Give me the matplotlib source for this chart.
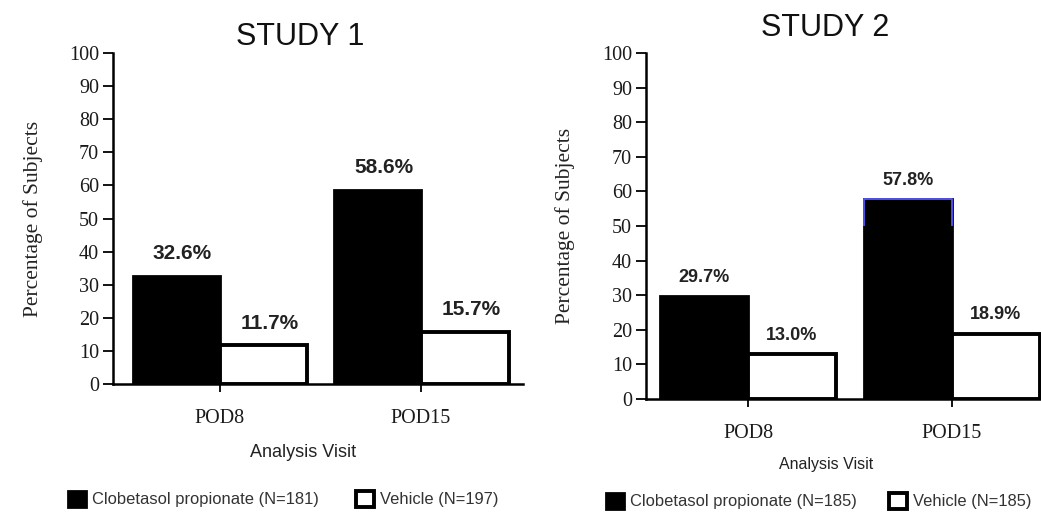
import numpy as np
import matplotlib
matplotlib.use('Agg')
import matplotlib.pyplot as plt

# data
visits = ['POD8', 'POD15']
study1_clob = [32.6, 58.6]
study1_veh = [11.7, 15.7]
study2_clob = [29.7, 57.8]
study2_veh = [13.0, 18.9]
study1_labels = ['Clobetasol propionate (N=181)', 'Vehicle (N=197)']
study2_labels = ['Clobetasol propionate (N=185)', 'Vehicle (N=185)']
yticks = list(range(0, 101, 10))

W, H = 1041, 512
fig = plt.figure(figsize=(W / 100, H / 100), dpi=100)
fig.patch.set_facecolor('white')


def px_axes(x0, x1, ytop, ybot):
    return fig.add_axes([x0 / W, 1 - ybot / H, (x1 - x0) / W, (ybot - ytop) / H])


def draw_panel(ax, clob, veh, xlim, width, tick_fs, val_fs, val_off, xlab_fs, ylab_fs):
    x = np.arange(len(visits))
    b1 = ax.bar(x - width / 2, clob, width, color='black', edgecolor='black', linewidth=2)
    b2 = ax.bar(x + width / 2, veh, width, color='white', edgecolor='black', linewidth=2.8)
    for bars, vals in ((b1, clob), (b2, veh)):
        for b, v in zip(bars, vals):
            ax.annotate(f'{v:.1f}%', (b.get_x() + b.get_width() / 2, v),
                        xytext=val_off, textcoords='offset points',
                        ha='center', va='center', fontsize=val_fs,
                        fontweight='bold', color='#222222', family='Liberation Sans')
    ax.set_xlim(*xlim)
    ax.set_ylim(0, 100)
    ax.set_yticks(yticks)
    ax.set_xticks(x)
    ax.set_xticklabels(visits)
    for s in ('top', 'right'):
        ax.spines[s].set_visible(False)
    for s in ('left', 'bottom'):
        ax.spines[s].set_linewidth(1.8)
    ax.tick_params(axis='y', length=7, width=1.3, labelsize=tick_fs, pad=3)
    ax.tick_params(axis='x', length=6, width=1.3, labelsize=tick_fs, pad=12)
    for t in ax.get_xticklabels() + ax.get_yticklabels():
        t.set_family('Liberation Serif')
        t.set_color('#1a1a1a')
    ax.set_ylabel('Percentage of Subjects', family='Liberation Serif',
                  fontsize=ylab_fs, color='#222222')
    ax.set_xlabel('Analysis Visit', family='Liberation Sans',
                  fontsize=xlab_fs, color='#222222')
    return b1, b2


ax1 = px_axes(113, 523, 53, 384)
draw_panel(ax1, study1_clob, study1_veh, (-0.532, 1.507), 0.435,
           14.5, 15, (4.5, 16), 13, 15.5)
ax1.yaxis.set_label_coords(-0.171, 0.5)
ax1.xaxis.set_label_coords(0.463, -0.181)

ax2 = px_axes(646, 1041, 53, 399)
b1, b2 = draw_panel(ax2, study2_clob, study2_veh, (-0.5, 1.436), 0.43,
                    14.5, 13, (0, 13.5), 11.5, 15.5)
ax2.yaxis.set_label_coords(-0.18, 0.5)
ax2.xaxis.set_label_coords(0.456, -0.168)

# bluish top edge on the 57.8% bar
bb = b1[1]
bx0, bx1 = bb.get_x(), bb.get_x() + bb.get_width()
ax2.plot([bx0, bx0, bx1, bx1], [50, bb.get_height(), bb.get_height(), 50],
         color='#5555ff', lw=1.3, zorder=3, solid_capstyle='butt')

fig.text(300 / W, 1 - 37 / H, 'STUDY 1', ha='center', va='center',
         fontsize=22, family='Liberation Sans', color='#111111')
fig.text(825 / W, 1 - 28 / H, 'STUDY 2', ha='center', va='center',
         fontsize=22, family='Liberation Sans', color='#111111')

legend_kw = dict(ncol=2, frameon=False, handlelength=1.1,
                 handleheight=1.1, handletextpad=0.4, borderaxespad=0,
                 prop={'family': 'Liberation Sans', 'size': 11.9})
lg1 = fig.legend(ax1.containers[:2], study1_labels, loc='center left',
                 bbox_to_anchor=(61 / W, 1 - 499 / H), columnspacing=2.2, **legend_kw)
lg2 = fig.legend(ax2.containers[:2], study2_labels, loc='center left',
                 bbox_to_anchor=(599 / W, 1 - 501 / H), columnspacing=1.9, **legend_kw)
for lg in (lg1, lg2):
    for t in lg.get_texts():
        t.set_color('#333333')

fig.savefig('out.png', dpi=100)
